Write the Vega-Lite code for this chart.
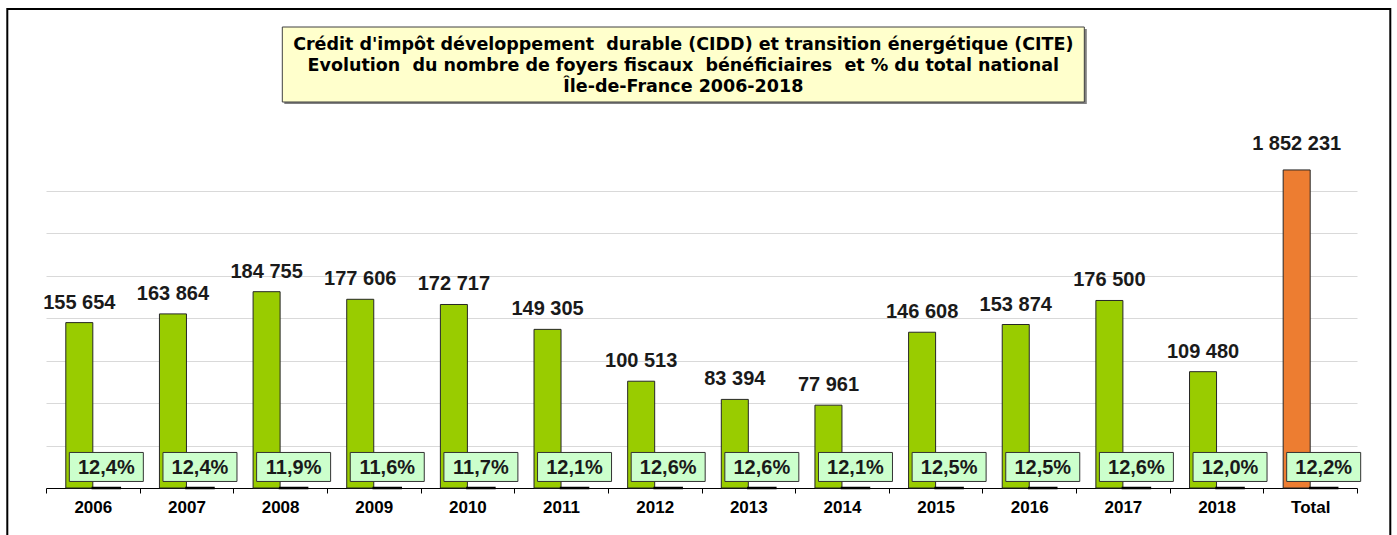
{
  "$schema": "https://vega.github.io/schema/vega-lite/v6.json",
  "width": 1311,
  "height": 340,
  "padding": {"left": 6, "top": 8, "right": 0, "bottom": 0},
  "background": "white",
  "config": {
    "locale": {"number": {"decimal": ",", "thousands": " ", "grouping": [3], "currency": ["", " €"]}},
    "view": {"stroke": null},
    "font": "Liberation Sans"
  },
  "datasets": {
    "rows": [
      {"annee": "2006", "foyers": 155654, "part": 0.124},
      {"annee": "2007", "foyers": 163864, "part": 0.124},
      {"annee": "2008", "foyers": 184755, "part": 0.119},
      {"annee": "2009", "foyers": 177606, "part": 0.116},
      {"annee": "2010", "foyers": 172717, "part": 0.117},
      {"annee": "2011", "foyers": 149305, "part": 0.121},
      {"annee": "2012", "foyers": 100513, "part": 0.126},
      {"annee": "2013", "foyers": 83394, "part": 0.126},
      {"annee": "2014", "foyers": 77961, "part": 0.121},
      {"annee": "2015", "foyers": 146608, "part": 0.125},
      {"annee": "2016", "foyers": 153874, "part": 0.125},
      {"annee": "2017", "foyers": 176500, "part": 0.126},
      {"annee": "2018", "foyers": 109480, "part": 0.120},
      {"annee": "Total", "foyers": 1852231, "part": 0.122}
    ],
    "titre": [
      {"titre": "Crédit d'impôt développement\u00a0 durable (CIDD) et transition énergétique (CITE)\nEvolution\u00a0 du nombre de foyers fiscaux\u00a0 bénéficiaires\u00a0 et % du total national\nÎle-de-France 2006-2018"}
    ],
    "vide": [{}]
  },
  "data": {"name": "rows"},
  "layer": [
    {
      "transform": [{"filter": "datum.annee === 'Total'"}],
      "layer": [
        {
          "mark": {"type": "bar", "fill": "#ED7D31", "stroke": "#262626", "strokeWidth": 1},
          "encoding": {
            "x": {
              "field": "annee", "type": "nominal",
              "scale": {"domain": ["2006","2007","2008","2009","2010","2011","2012","2013","2014","2015","2016","2017","2018","Total"], "paddingInner": 0, "paddingOuter": 0},
              "axis": null
            },
            "xOffset": {"datum": "foyers", "type": "nominal", "scale": {"domain": ["foyers", "part"], "paddingInner": 0, "paddingOuter": 0.733}},
            "y": {"field": "foyers", "type": "quantitative", "scale": {"domain": [0, 1980000], "nice": false}, "axis": null}
          }
        },
        {
          "mark": {"type": "text", "font": "Liberation Sans", "fontSize": 20, "fontWeight": "bold", "color": "#1A1A1A", "baseline": "alphabetic", "align": "center", "dy": -20},
          "encoding": {
            "x": {"field": "annee", "type": "nominal"},
            "xOffset": {"datum": "foyers", "type": "nominal"},
            "y": {"field": "foyers", "type": "quantitative"},
            "text": {"field": "foyers", "type": "quantitative", "format": ",d"}
          }
        }
      ]
    },
    {
      "layer": [
        {
          "mark": {"type": "bar", "fill": "#99CC00", "stroke": "#262626", "strokeWidth": 1},
          "transform": [{"filter": "datum.annee !== 'Total'"}],
          "encoding": {
            "x": {
              "field": "annee", "type": "nominal",
              "scale": {"domain": ["2006","2007","2008","2009","2010","2011","2012","2013","2014","2015","2016","2017","2018","Total"], "paddingInner": 0, "paddingOuter": 0},
              "axis": {"orient": "bottom", "title": null, "labelAngle": 0, "labelFont": "Liberation Sans", "labelFontSize": 17, "labelFontWeight": "bold", "labelColor": "#000000", "labelPadding": 6, "domainColor": "#000000", "domainWidth": 1, "tickColor": "#000000", "tickSize": 5, "tickWidth": 1, "tickBand": "extent", "grid": false}
            },
            "xOffset": {"datum": "foyers", "type": "nominal", "scale": {"domain": ["foyers", "part"], "paddingInner": 0, "paddingOuter": 0.733}},
            "y": {
              "field": "foyers", "type": "quantitative",
              "scale": {"domain": [0, 320000], "nice": false},
              "axis": {"orient": "left", "title": null, "labels": false, "ticks": false, "domain": false, "grid": true, "gridColor": "#D9D9D9", "gridWidth": 1, "values": [40000, 80000, 120000, 160000, 200000, 240000, 280000]}
            }
          }
        },
        {
          "mark": {"type": "bar", "fill": "#000000", "stroke": "#000000", "strokeWidth": 2.5},
          "encoding": {
            "x": {"field": "annee", "type": "nominal"},
            "xOffset": {"datum": "part", "type": "nominal"},
            "y": {"field": "part", "type": "quantitative"}
          }
        },
        {
          "mark": {"type": "point", "shape": "M-1,-0.392H1V0.392H-1Z", "size": 5476, "filled": true, "fill": "#CCFFCC", "stroke": "#333333", "strokeWidth": 1, "opacity": 1, "strokeOpacity": 1},
          "encoding": {
            "x": {"field": "annee", "type": "nominal"},
            "xOffset": {"datum": "part", "type": "nominal"},
            "y": {"datum": 19800, "type": "quantitative"}
          }
        },
        {
          "mark": {"type": "text", "font": "Liberation Sans", "fontSize": 20, "fontWeight": "bold", "color": "#1A1A1A", "baseline": "middle", "align": "center", "dy": 1},
          "encoding": {
            "x": {"field": "annee", "type": "nominal"},
            "xOffset": {"datum": "part", "type": "nominal"},
            "y": {"datum": 19800, "type": "quantitative"},
            "text": {"field": "part", "type": "quantitative", "format": ".1%"}
          }
        },
        {
          "mark": {"type": "text", "font": "Liberation Sans", "fontSize": 20, "fontWeight": "bold", "color": "#1A1A1A", "baseline": "alphabetic", "align": "center", "dy": -14},
          "transform": [{"filter": "datum.annee !== 'Total'"}],
          "encoding": {
            "x": {"field": "annee", "type": "nominal"},
            "xOffset": {"datum": "foyers", "type": "nominal"},
            "y": {"field": "foyers", "type": "quantitative"},
            "text": {"field": "foyers", "type": "quantitative", "format": ",d"}
          }
        }
      ]
    },
    {
      "data": {"name": "vide"},
      "layer": [
        {
          "mark": {"type": "rect", "fill": null, "fillOpacity": 0, "stroke": "#000000", "strokeWidth": 2, "clip": false},
          "encoding": {
            "x": {"datum": -38.7, "type": "quantitative", "scale": {"domain": [0, 1311], "nice": false, "zero": false}, "axis": null},
            "x2": {"datum": 1344.3},
            "y": {"datum": -139, "type": "quantitative", "scale": {"domain": [0, 340], "nice": false, "zero": false, "reverse": true}, "axis": null},
            "y2": {"datum": 420}
          }
        },
        {
          "mark": {"type": "rect", "fill": "#808080", "stroke": null, "clip": false},
          "encoding": {
            "x": {"datum": 238.3, "type": "quantitative"},
            "x2": {"datum": 1040.8},
            "y": {"datum": -119, "type": "quantitative"},
            "y2": {"datum": -44}
          }
        },
        {
          "mark": {"type": "rect", "fill": "#FFFFCC", "stroke": "#404040", "strokeWidth": 1, "clip": false},
          "encoding": {
            "x": {"datum": 236.3, "type": "quantitative"},
            "x2": {"datum": 1038.3},
            "y": {"datum": -121, "type": "quantitative"},
            "y2": {"datum": -46}
          }
        },
        {
          "data": {"name": "titre"},
          "mark": {"type": "text", "font": "DejaVu Sans", "fontSize": 17.5, "fontWeight": "bold", "color": "#000000", "align": "center", "baseline": "middle", "lineBreak": "\n", "lineHeight": 21, "clip": false},
          "encoding": {
            "x": {"datum": 637.3, "type": "quantitative"},
            "y": {"datum": -103, "type": "quantitative"},
            "text": {"field": "titre", "type": "nominal"}
          }
        }
      ]
    }
  ],
  "resolve": {"scale": {"x": "independent", "y": "independent", "xOffset": "independent"}}
}
